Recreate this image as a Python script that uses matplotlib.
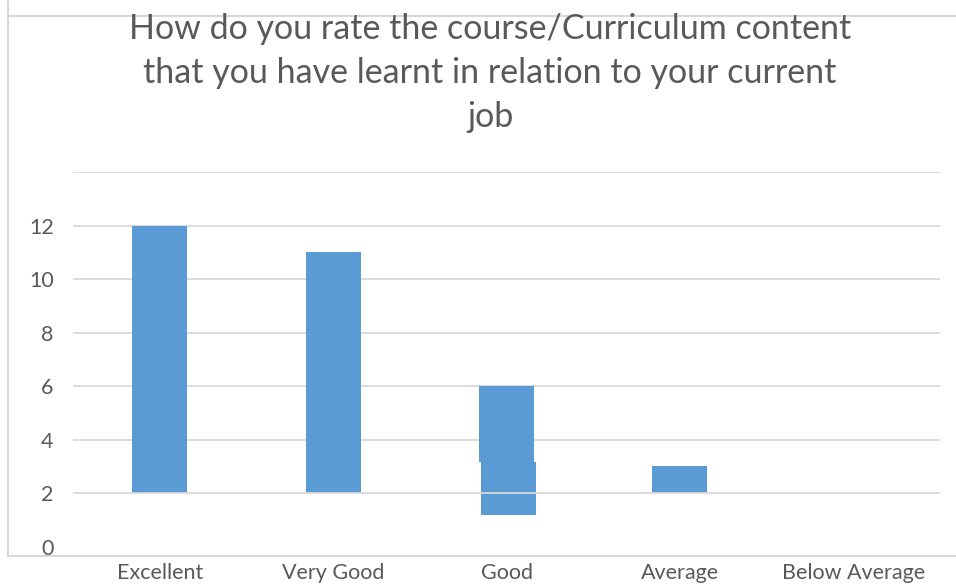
import matplotlib.pyplot as plt
from matplotlib.lines import Line2D

# data
categories = ['Excellent', 'Very Good', 'Good', 'Average', 'Below Average']
tops = [12, 11, 6, 3, 0]
bottoms = [2, 2, 2, 2, 2]
# the "Good" bar has a broken lower piece in the original
good_piece_top = 3.15
good_piece_bottom = 1.18
ytick_vals = [0, 2, 4, 6, 8, 10, 12]
grid_vals = [2, 4, 6, 8, 10, 12, 14]

bar_color = '#5b9bd5'
grid_color = '#d9d9d9'
text_color = '#595959'
plt.rcParams['font.family'] = ['Lato', 'DejaVu Sans']

fig = plt.figure(figsize=(9.56, 5.86), dpi=100)
ax = fig.add_axes([73/956, 30/586, 867/956, 384/586])

x = list(range(len(categories)))
w = 0.317
for i, (b, t) in enumerate(zip(bottoms, tops)):
    if t <= b:
        continue
    if categories[i] == 'Good':
        ax.bar(i, t - good_piece_top, bottom=good_piece_top, width=w, color=bar_color, zorder=2)
        ax.bar(i + 0.012, good_piece_top - good_piece_bottom, bottom=good_piece_bottom,
               width=w, color=bar_color, zorder=2)
    else:
        ax.bar(i, t - b, bottom=b, width=w, color=bar_color, zorder=2)

for g in grid_vals:
    ax.axhline(g, color=grid_color, lw=1.3, zorder=3 if g == 2 else 1)

ax.set_xlim(-0.5, 4.5)
ax.set_ylim(-0.35, 14)
ax.set_yticks(ytick_vals)
ax.set_yticklabels([str(v) for v in ytick_vals], fontsize=15.5, color=text_color)
ax.set_xticks(x)
ax.set_xticklabels(categories, fontsize=15.5, color=text_color)
ax.tick_params(length=0)
ax.tick_params(axis='y', pad=14)
ax.tick_params(axis='x', pad=5)
for s in ax.spines.values():
    s.set_visible(False)

# chart frame
fig.add_artist(Line2D([8/956, 8/956], [30/586, 1], color=grid_color, lw=1.5))
fig.add_artist(Line2D([8/956, 955/956], [1 - 15.5/586, 1 - 15.5/586], color=grid_color, lw=1.5))
fig.add_artist(Line2D([8/956, 1], [30/586, 30/586], color=grid_color, lw=1.5))

fig.text(490/956, 1 - 73/586,
         'How do you rate the course/Curriculum content\nthat you have learnt in relation to your current\njob',
         ha='center', va='center', fontsize=24.5, color=text_color, linespacing=1.48)

fig.savefig('out.png', dpi=100, facecolor='white')
